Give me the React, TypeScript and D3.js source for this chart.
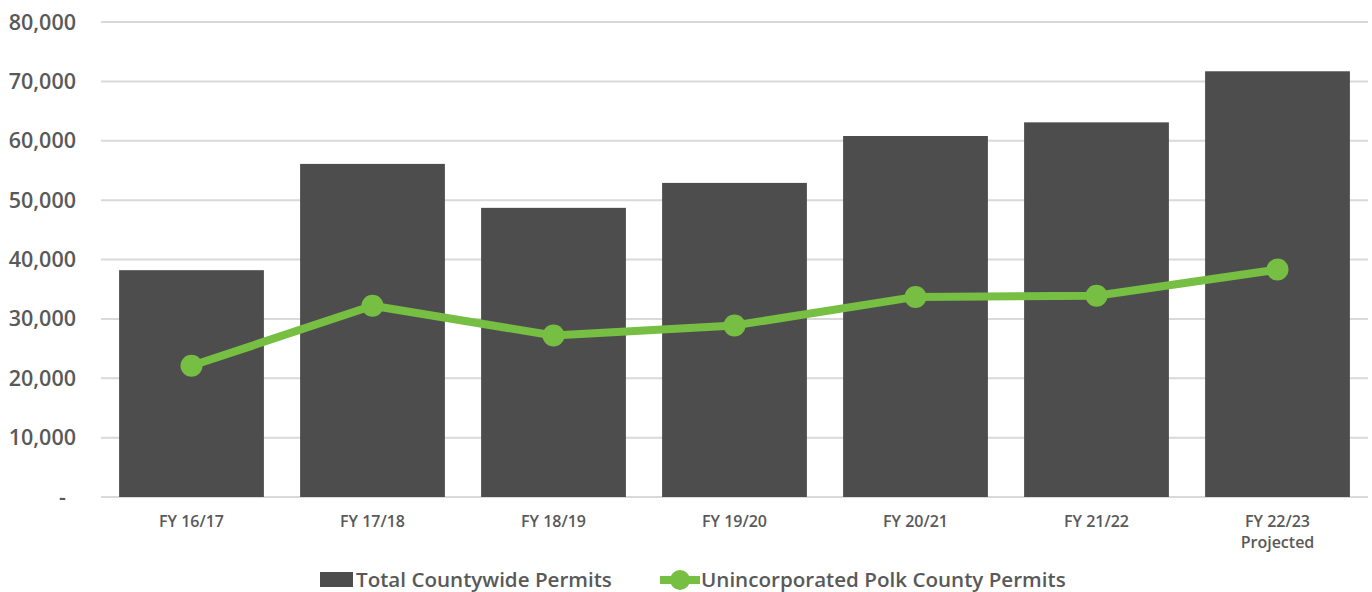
import React from "react";
import * as d3 from "d3";

const categories = ["FY 16/17", "FY 17/18", "FY 18/19", "FY 19/20", "FY 20/21", "FY 21/22", "FY 22/23|Projected"];
const totalPermits = [38200, 56100, 48700, 52900, 60800, 63100, 71700];
const unincorporated = [22100, 32200, 27200, 28900, 33700, 33900, 38300];
const yTicks = [0, 10000, 20000, 30000, 40000, 50000, 60000, 70000, 80000];

const W = 1372, H = 592;
const M = { left: 101, right: 4, top: 22, bottom: 95 };

export default function App() {
  const x = d3.scaleBand<string>().domain(categories).range([M.left, W - M.right]).paddingInner(0.2).paddingOuter(0.1);
  const y = d3.scaleLinear().domain([0, 80000]).range([H - M.bottom, M.top]);
  const cx = (c: string) => (x(c) as number) + x.bandwidth() / 2;
  const line = d3.line<number>().x((_, i) => cx(categories[i])).y((d) => y(d));
  const font = "'Open Sans', sans-serif";
  const txt = "#595959";
  const green = "#76bf43";
  return (
    <div style={{ position: "absolute", left: 0, top: 0 }}>
      <svg width={W} height={H} style={{ display: "block" }} fontFamily={font}>
        {yTicks.map((t) => (
          <g key={t}>
            <line x1={M.left} x2={W - M.right} y1={y(t)} y2={y(t)} stroke="#d9d9d9" strokeWidth={2} />
            <text x={t === 0 ? 66 : 76} y={y(t)} dy="0.35em" textAnchor="end" fontSize={21.5} fontWeight={600} fill={txt}>
              {t === 0 ? "-" : d3.format(",")(t)}
            </text>
          </g>
        ))}
        {categories.map((c, i) => (
          <rect key={c} x={x(c)} y={y(totalPermits[i])} width={x.bandwidth()} height={y(0) - y(totalPermits[i])} fill="#4d4d4d" />
        ))}
        <path d={line(unincorporated) || ""} fill="none" stroke={green} strokeWidth={8} strokeLinejoin="round" />
        {unincorporated.map((v, i) => (
          <circle key={i} cx={cx(categories[i])} cy={y(v)} r={11} fill={green} />
        ))}
        {categories.map((c) =>
          c.split("|").map((s, j) => (
            <text key={c + j} x={cx(c)} y={527 + j * 21} textAnchor="middle" fontSize={16} fontWeight={600} fill={txt}>
              {s}
            </text>
          ))
        )}
        <g>
          <rect x={320} y={572} width={33} height={15} fill="#4d4d4d" />
          <text x={356} y={580} dy="0.35em" fontSize={20.6} fontWeight={600} fill={txt}>Total Countywide Permits</text>
          <line x1={660} x2={700} y1={580} y2={580} stroke={green} strokeWidth={8} />
          <circle cx={680} cy={580} r={10} fill={green} />
          <text x={701} y={580} dy="0.35em" fontSize={20.6} fontWeight={600} fill={txt}>Unincorporated Polk County Permits</text>
        </g>
      </svg>
    </div>
  );
}
